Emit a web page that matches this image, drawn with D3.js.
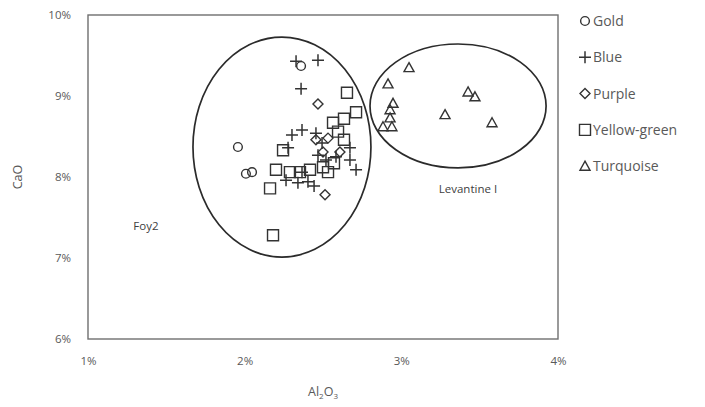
<!DOCTYPE html>
<html>
<head>
<meta charset="utf-8">
<script src="https://cdn.jsdelivr.net/npm/d3@7"></script>
<style>
body { margin: 0; background: #fff; }
svg { display: block; font-family: "Open Sans", "Noto Sans", sans-serif; }
</style>
</head>
<body>
<div id="chart"></div>
<script>
// values, Al2O3 % / CaO %
var gold = [[1.957, 8.37], [2.36, 9.37], [2.008, 8.04], [2.047, 8.06]];
var blue = [[2.328, 9.43], [2.468, 9.44], [2.36, 9.09], [2.302, 8.52], [2.366, 8.58], [2.455, 8.54],
    [2.494, 8.42], [2.468, 8.27], [2.519, 8.21], [2.583, 8.25], [2.672, 8.36], [2.672, 8.21],
    [2.711, 8.09], [2.264, 7.96], [2.34, 7.93], [2.404, 7.94], [2.443, 7.89], [2.366, 8.06], [2.277, 8.36]];
var purple = [[2.468, 8.90], [2.532, 8.48], [2.5, 8.31], [2.608, 8.31], [2.513, 7.78], [2.455, 8.46]];
var yellowGreen = [[2.653, 9.04], [2.711, 8.80], [2.634, 8.72], [2.564, 8.67], [2.596, 8.56], [2.245, 8.33],
    [2.2, 8.09], [2.289, 8.06], [2.353, 8.06], [2.5, 8.12], [2.57, 8.17], [2.532, 8.06],
    [2.162, 7.86], [2.181, 7.28], [2.634, 8.46], [2.417, 8.09]];
var turquoise = [[3.049, 9.35], [2.915, 9.15], [2.947, 8.91], [2.928, 8.83], [2.928, 8.73], [2.883, 8.62],
    [2.94, 8.62], [3.279, 8.77], [3.426, 9.05], [3.47, 8.99], [3.579, 8.67]];

var seriesNames = ["Gold", "Blue", "Purple", "Yellow-green", "Turquoise"];
var xTicks = [1, 2, 3, 4];
var yTicks = [6, 7, 8, 9, 10];

// group ellipses: centre x, centre y, radius x, radius y (data units)
var groups = [
    {label: "Foy2", cx: 2.238, cy: 8.37, rx: 0.568, ry: 1.358, lx: 1.37, ly: 7.35},
    {label: "Levantine I", cx: 3.362, cy: 8.877, rx: 0.562, ry: 0.765, lx: 3.425, ly: 7.8}
];

var width = 705, height = 407;
var plotLeft = 88, plotRight = 558, plotTop = 15, plotBottom = 339;
var ink = "#333333";

var svg = d3.select("#chart").append("svg")
    .attr("width", width)
    .attr("height", height);

var xScale = d3.scaleLinear().domain([1, 4]).range([plotLeft, plotRight]);
var yScale = d3.scaleLinear().domain([6, 10]).range([plotBottom, plotTop]);

// plot frame
svg.append("rect")
    .attr("x", plotLeft).attr("y", plotTop)
    .attr("width", plotRight - plotLeft).attr("height", plotBottom - plotTop)
    .attr("fill", "none").attr("stroke", "#6f6f6f").attr("stroke-width", 1.4);

var xAxis = d3.axisBottom(xScale).tickValues(xTicks).tickSize(0).tickPadding(18)
    .tickFormat(function(d) { return d + "%"; });
svg.append("g")
    .attr("class", "axis")
    .attr("transform", "translate(0," + plotBottom + ")")
    .call(xAxis);

var yAxis = d3.axisLeft(yScale).tickValues(yTicks).tickSize(0).tickPadding(17)
    .tickFormat(function(d) { return d + "%"; });
svg.append("g")
    .attr("class", "axis")
    .attr("transform", "translate(" + plotLeft + ",0)")
    .call(yAxis);

svg.selectAll(".axis .domain").remove();
svg.selectAll(".axis text")
    .attr("fill", "#595959")
    .style("font-size", "11.5px")
    .style("font-family", "\"Open Sans\", \"Noto Sans\", sans-serif");

// axis titles
var xt = svg.append("text")
    .attr("x", (plotLeft + plotRight) / 2).attr("y", 396)
    .attr("text-anchor", "middle")
    .attr("fill", "#595959")
    .style("font-size", "12.5px");
xt.append("tspan").text("Al");
xt.append("tspan").attr("dy", 3).style("font-size", "8px").text("2");
xt.append("tspan").attr("dy", -3).text("O");
xt.append("tspan").attr("dy", 3).style("font-size", "8px").text("3");

svg.append("text")
    .attr("transform", "translate(22," + (plotTop + plotBottom) / 2 + ") rotate(-90)")
    .attr("text-anchor", "middle")
    .attr("fill", "#595959")
    .style("font-size", "12.5px")
    .text("CaO");

// ellipses around groups
svg.selectAll("ellipse.group")
    .data(groups)
    .enter()
    .append("ellipse")
    .attr("class", "group")
    .attr("cx", function(d) { return xScale(d.cx); })
    .attr("cy", function(d) { return yScale(d.cy); })
    .attr("rx", function(d) { return xScale(d.cx + d.rx) - xScale(d.cx); })
    .attr("ry", function(d) { return yScale(d.cy - d.ry) - yScale(d.cy); })
    .attr("fill", "none")
    .attr("stroke", "#2b2b2b")
    .attr("stroke-width", 1.7);

svg.selectAll("text.glabel")
    .data(groups)
    .enter()
    .append("text")
    .attr("class", "glabel")
    .attr("x", function(d) { return xScale(d.lx); })
    .attr("y", function(d) { return yScale(d.ly); })
    .attr("text-anchor", "middle")
    .attr("fill", "#404040")
    .style("font-size", "11.5px")
    .text(function(d) { return d.label; });

// marker paths, drawn around 0,0
var markerPaths = [
    d3.symbol().type(d3.symbolCircle).size(60)(),
    "M-6,0H6M0,-6V6",
    "M0,-5L5,0L0,5L-5,0Z",
    "M-5.5,-5.5H5.5V5.5H-5.5Z",
    "M0,-5L5,4H-5Z"
];

function drawMarker(g, i) {
    g.append("path")
        .attr("d", markerPaths[i])
        .attr("fill", "none")
        .attr("stroke", ink)
        .attr("stroke-width", i === 1 ? 1.5 : 1.4);
}

var allSeries = [gold, blue, purple, yellowGreen, turquoise];
allSeries.forEach(function(series, i) {
    svg.append("g").selectAll("g")
        .data(series)
        .enter()
        .append("g")
        .attr("transform", function(d) { return "translate(" + xScale(d[0]) + "," + yScale(d[1]) + ")"; })
        .each(function() { drawMarker(d3.select(this), i); });
});

// legend
var legend = svg.append("g").attr("transform", "translate(585,21)");
seriesNames.forEach(function(name, i) {
    var row = legend.append("g").attr("transform", "translate(0," + i * 36.3 + ")");
    drawMarker(row, i);
    row.append("text")
        .attr("x", 8).attr("y", 5)
        .attr("fill", "#595959")
        .style("font-size", "14px")
        .text(name);
});
</script>
</body>
</html>
